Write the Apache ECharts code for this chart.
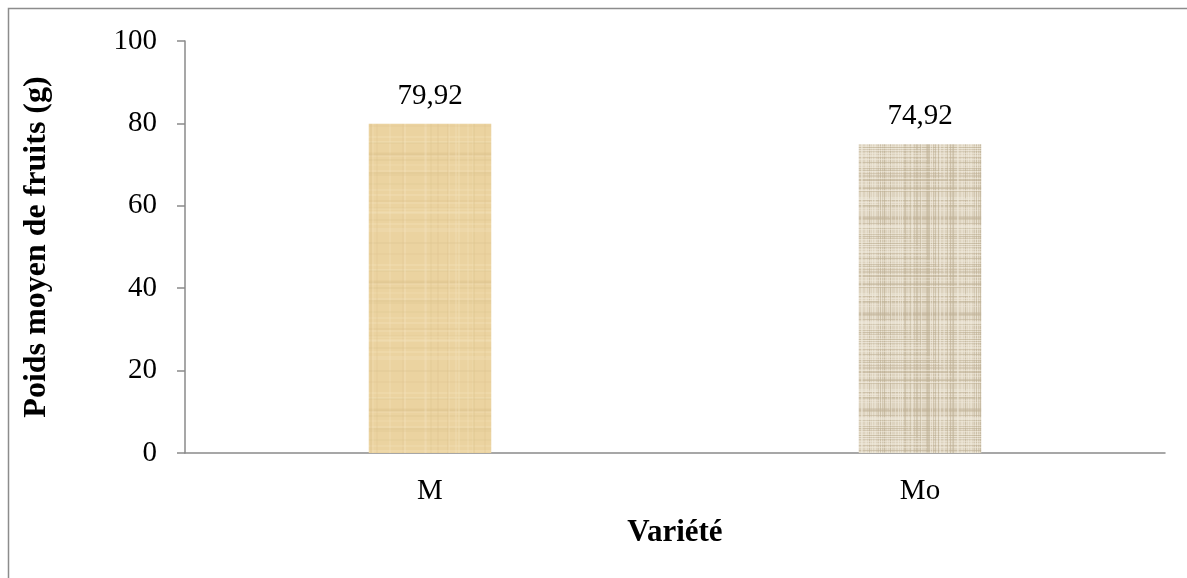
<!DOCTYPE html>
<html>
<head>
<meta charset="utf-8">
<script src="https://cdn.jsdelivr.net/npm/echarts@6/dist/echarts.min.js"></script>
<style>
  html, body { margin: 0; padding: 0; background: #ffffff; }
  #chart { width: 1187px; height: 578px; }
</style>
</head>
<body>
<div id="chart"></div>
<script>
// Poids moyen de fruits par variété
const varietes = ['M', 'Mo'];
const poidsMoyen = [79.92, 74.92];
const yTicks = [0, 20, 40, 60, 80, 100];

// Deterministic hash used to vary the weave strands
function hash(n) {
  let x = Math.sin(n * 12.9898 + 78.233) * 43758.5453;
  return x - Math.floor(x);
}

// Builds a small woven-paper texture tile for a bar fill
function weave(base, dark, light, size, densityH, densityV, alpha, strand) {
  const c = document.createElement('canvas');
  c.width = size; c.height = size;
  const g = c.getContext('2d');
  g.fillStyle = base;
  g.fillRect(0, 0, size, size);
  for (let i = 0; i < size; i++) {
    const hv = hash(i * 3.1 + 1);
    const vv = hash(i * 7.7 + 5);
    if (hv < densityH) {
      g.globalAlpha = alpha * (0.5 + 0.5 * hash(i + 11));
      g.fillStyle = hv < densityH / 2 ? dark : light;
      g.fillRect(0, i, size, strand);
    }
    if (vv < densityV) {
      g.globalAlpha = alpha * (0.5 + 0.5 * hash(i + 29));
      g.fillStyle = vv < densityV / 2 ? dark : light;
      g.fillRect(i, 0, strand, size);
    }
  }
  g.globalAlpha = 1;
  return c;
}

const textureM = weave('#ebd3a0', '#dcc28c', '#f4e3bd', 128, 0.22, 0.12, 0.35, 2);
const textureMo = weave('#ddd3bf', '#bcae92', '#f2ecdf', 96, 0.55, 0.55, 0.6, 1);
const fills = [textureM, textureMo];

const serif = '"Liberation Serif", "Times New Roman", serif';
const axisGray = '#8a8a8a';

const chart = echarts.init(document.getElementById('chart'), null, { renderer: 'canvas' });

chart.setOption({
  animation: false,
  backgroundColor: '#ffffff',
  textStyle: { fontFamily: serif },
  graphic: [{
    type: 'rect',
    shape: { x: 8.5, y: 8.5, width: 1400, height: 800 },
    style: { fill: 'none', stroke: '#8c8c8c', lineWidth: 1.5 },
    silent: true
  }],
  grid: { left: 185, right: 22, top: 41, bottom: 125 },
  xAxis: {
    type: 'category',
    data: varietes,
    name: 'Variété',
    nameLocation: 'middle',
    nameGap: 64,
    nameTextStyle: { fontFamily: serif, fontSize: 31, fontWeight: 'bold', color: '#000' },
    axisLine: { show: true, lineStyle: { color: axisGray, width: 1.5 } },
    axisTick: { show: false },
    axisLabel: { fontFamily: serif, fontSize: 29, color: '#000', margin: 24 },
    splitLine: { show: false }
  },
  yAxis: {
    type: 'value',
    min: yTicks[0],
    max: yTicks[yTicks.length - 1],
    interval: yTicks[1] - yTicks[0],
    name: 'Poids moyen de fruits (g)',
    nameLocation: 'middle',
    nameGap: 132,
    nameTextStyle: { fontFamily: serif, fontSize: 32, fontWeight: 'bold', color: '#000' },
    axisLine: { show: true, lineStyle: { color: axisGray, width: 1.5 } },
    axisTick: { show: true, inside: false, length: 8, lineStyle: { color: axisGray, width: 1.5 } },
    axisLabel: { fontFamily: serif, fontSize: 29, color: '#000', margin: 28 },
    splitLine: { show: false }
  },
  series: [{
    type: 'bar',
    barWidth: '25%',
    data: poidsMoyen.map((v, i) => ({
      value: v,
      itemStyle: { color: { image: fills[i], repeat: 'repeat' } }
    })),
    label: {
      show: true,
      position: 'top',
      distance: 13,
      fontFamily: serif,
      fontSize: 29,
      color: '#000',
      formatter: p => p.value.toFixed(2).replace('.', ',')
    }
  }]
});
</script>
</body>
</html>
